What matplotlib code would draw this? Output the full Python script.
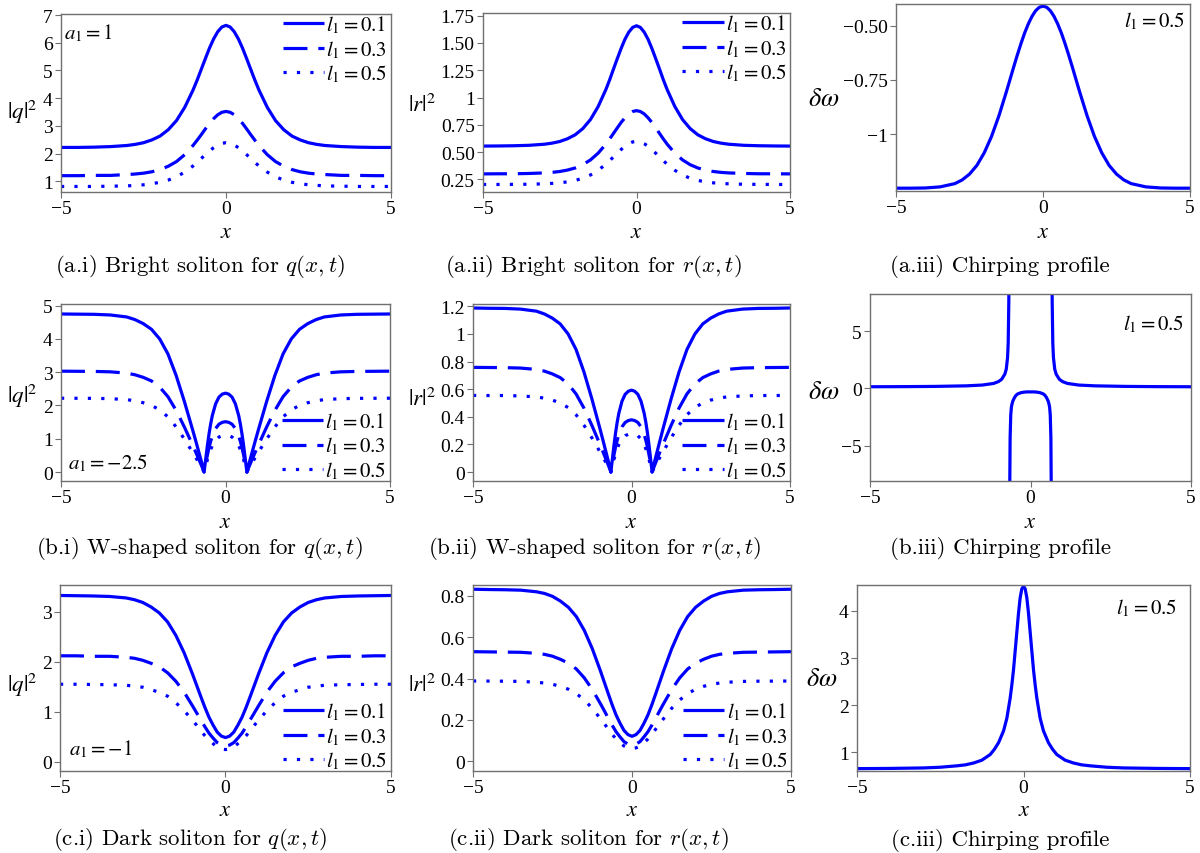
import matplotlib
matplotlib.use("Agg")
import matplotlib.pyplot as plt

plt.rcParams.update({"font.family": "Liberation Serif", "mathtext.fontset": "stix"})

W, H = 1200, 854

# ---- data ----
x_bell = [-5, -4.5, -4, -3.5, -3, -2.75, -2.5, -2.25, -2, -1.75, -1.5, -1.25, -1, -0.875, -0.75, -0.625, -0.5,
          -0.375, -0.25, -0.125, 0, 0.125, 0.25, 0.375, 0.5, 0.625, 0.75, 0.875, 1, 1.25, 1.5, 1.75, 2,
          2.25, 2.5, 2.75, 3, 3.5, 4, 4.5, 5]

# (a.i) bright |q|^2, a1 = 1
q_bright_01 = [2.22, 2.22, 2.23, 2.25, 2.29, 2.33, 2.39, 2.49, 2.63, 2.86, 3.19, 3.67, 4.29, 4.65, 5.04, 5.43, 5.81,
               6.14, 6.40, 6.57, 6.63, 6.57, 6.40, 6.14, 5.81, 5.43, 5.04, 4.65, 4.29, 3.67, 3.19, 2.86, 2.63,
               2.49, 2.39, 2.33, 2.29, 2.25, 2.23, 2.22, 2.22]
q_bright_03 = [1.20, 1.20, 1.21, 1.21, 1.24, 1.26, 1.29, 1.34, 1.42, 1.54, 1.71, 1.96, 2.29, 2.48, 2.68, 2.89, 3.09,
               3.26, 3.40, 3.49, 3.52, 3.49, 3.40, 3.26, 3.09, 2.89, 2.68, 2.48, 2.29, 1.96, 1.71, 1.54, 1.42,
               1.34, 1.29, 1.26, 1.24, 1.21, 1.21, 1.20, 1.20]
q_bright_05 = [0.81, 0.81, 0.81, 0.82, 0.83, 0.85, 0.87, 0.91, 0.96, 1.04, 1.16, 1.33, 1.55, 1.68, 1.82, 1.96, 2.09,
               2.21, 2.31, 2.37, 2.39, 2.37, 2.31, 2.21, 2.09, 1.96, 1.82, 1.68, 1.55, 1.33, 1.16, 1.04, 0.96,
               0.91, 0.87, 0.85, 0.83, 0.82, 0.81, 0.81, 0.81]

# (a.ii) bright |r|^2
r_bright_01 = [0.555, 0.556, 0.558, 0.562, 0.572, 0.582, 0.597, 0.622, 0.658, 0.715, 0.798, 0.917, 1.072, 1.162,
               1.261, 1.357, 1.451, 1.535, 1.600, 1.643, 1.658, 1.643, 1.600, 1.535, 1.451, 1.357, 1.261, 1.162,
               1.072, 0.917, 0.798, 0.715, 0.658, 0.622, 0.597, 0.582, 0.572, 0.562, 0.558, 0.556, 0.555]
r_bright_03 = [0.300, 0.301, 0.301, 0.304, 0.309, 0.314, 0.322, 0.335, 0.354, 0.384, 0.428, 0.490, 0.572, 0.620,
               0.671, 0.722, 0.772, 0.815, 0.850, 0.872, 0.880, 0.872, 0.850, 0.815, 0.772, 0.722, 0.671, 0.620,
               0.572, 0.490, 0.428, 0.384, 0.354, 0.335, 0.322, 0.314, 0.309, 0.304, 0.301, 0.301, 0.300]
r_bright_05 = [0.203, 0.203, 0.204, 0.205, 0.209, 0.213, 0.218, 0.227, 0.240, 0.260, 0.290, 0.333, 0.388, 0.421,
               0.456, 0.490, 0.524, 0.554, 0.577, 0.593, 0.598, 0.593, 0.577, 0.554, 0.524, 0.490, 0.456, 0.421,
               0.388, 0.333, 0.290, 0.260, 0.240, 0.227, 0.218, 0.213, 0.209, 0.205, 0.204, 0.203, 0.203]

# (a.iii) chirp
chirp_a = [-1.250, -1.250, -1.249, -1.244, -1.229, -1.212, -1.185, -1.145, -1.087, -1.011, -0.916, -0.807, -0.692,
           -0.636, -0.583, -0.534, -0.492, -0.457, -0.431, -0.415, -0.410, -0.415, -0.431, -0.457, -0.492, -0.534,
           -0.583, -0.636, -0.692, -0.807, -0.916, -1.011, -1.087, -1.145, -1.185, -1.212, -1.229, -1.244, -1.249,
           -1.250, -1.250]

# (b) W-shaped
x_w = [-5, -4.5, -4, -3.5, -3, -2.75, -2.5, -2.25, -2, -1.75, -1.5, -1.25, -1.1, -1, -0.9, -0.8, -0.72, -0.65,
       -0.6, -0.55, -0.5, -0.45, -0.4, -0.3, -0.2, -0.1, 0, 0.1, 0.2, 0.3, 0.4, 0.45, 0.5, 0.55, 0.6,
       0.65, 0.72, 0.8, 0.9, 1, 1.1, 1.25, 1.5, 1.75, 2, 2.25, 2.5, 2.75, 3, 3.5, 4, 4.5, 5]
q_w_01 = [4.75, 4.745, 4.74, 4.72, 4.66, 4.58, 4.46, 4.29, 4.00, 3.55, 2.90, 2.12, 1.61, 1.27, 0.92, 0.56, 0.27, 0.0,
          0.40, 0.80, 1.15, 1.45, 1.70, 2.05, 2.25, 2.34, 2.37, 2.34, 2.25, 2.05, 1.70, 1.45, 1.15, 0.80, 0.40,
          0.0, 0.27, 0.56, 0.92, 1.27, 1.61, 2.12, 2.90, 3.55, 4.00, 4.29, 4.46, 4.58, 4.66, 4.72, 4.74, 4.745, 4.75]
q_w_03 = [3.031, 3.027, 3.024, 3.011, 2.973, 2.922, 2.845, 2.737, 2.552, 2.265, 1.850, 1.353, 1.027, 0.810, 0.587,
          0.357, 0.172, 0.0, 0.255, 0.510, 0.734, 0.925, 1.085, 1.308, 1.436, 1.493, 1.512, 1.493, 1.436, 1.308,
          1.085, 0.925, 0.734, 0.510, 0.255, 0.0, 0.172, 0.357, 0.587, 0.810, 1.027, 1.353, 1.850, 2.265, 2.552,
          2.737, 2.845, 2.922, 2.973, 3.011, 3.024, 3.027, 3.031]
q_w_05 = [2.218, 2.216, 2.214, 2.204, 2.176, 2.139, 2.083, 2.003, 1.868, 1.658, 1.354, 0.990, 0.752, 0.593, 0.430,
          0.262, 0.126, 0.0, 0.187, 0.374, 0.537, 0.677, 0.794, 0.957, 1.051, 1.093, 1.107, 1.093, 1.051, 0.957,
          0.794, 0.677, 0.537, 0.374, 0.187, 0.0, 0.126, 0.262, 0.430, 0.593, 0.752, 0.990, 1.354, 1.658, 1.868,
          2.003, 2.083, 2.139, 2.176, 2.204, 2.214, 2.216, 2.218]
r_w_01 = [1.188, 1.186, 1.185, 1.180, 1.165, 1.145, 1.115, 1.073, 1.000, 0.888, 0.725, 0.530, 0.403, 0.318, 0.230,
          0.140, 0.068, 0.0, 0.100, 0.200, 0.288, 0.363, 0.425, 0.513, 0.563, 0.585, 0.593, 0.585, 0.563, 0.513,
          0.425, 0.363, 0.288, 0.200, 0.100, 0.0, 0.068, 0.140, 0.230, 0.318, 0.403, 0.530, 0.725, 0.888, 1.000,
          1.073, 1.115, 1.145, 1.165, 1.180, 1.185, 1.186, 1.188]
r_w_03 = [0.758, 0.757, 0.756, 0.753, 0.743, 0.731, 0.711, 0.684, 0.638, 0.566, 0.463, 0.338, 0.257, 0.203, 0.147,
          0.089, 0.043, 0.0, 0.064, 0.128, 0.184, 0.231, 0.271, 0.327, 0.359, 0.373, 0.378, 0.373, 0.359, 0.327,
          0.271, 0.231, 0.184, 0.128, 0.064, 0.0, 0.043, 0.089, 0.147, 0.203, 0.257, 0.338, 0.463, 0.566, 0.638,
          0.684, 0.711, 0.731, 0.743, 0.753, 0.756, 0.757, 0.758]
r_w_05 = [0.555, 0.554, 0.554, 0.551, 0.544, 0.535, 0.521, 0.501, 0.467, 0.415, 0.339, 0.248, 0.188, 0.148, 0.108,
          0.066, 0.032, 0.0, 0.047, 0.094, 0.134, 0.169, 0.199, 0.239, 0.263, 0.273, 0.277, 0.273, 0.263, 0.239,
          0.199, 0.169, 0.134, 0.094, 0.047, 0.0, 0.032, 0.066, 0.108, 0.148, 0.188, 0.248, 0.339, 0.415, 0.467,
          0.501, 0.521, 0.535, 0.544, 0.551, 0.554, 0.554, 0.555]

# (b.iii) chirp with two singularities, drawn as three branches
chirp_b_left_x = [-5, -4, -3, -2, -1.5, -1.15, -1, -0.9, -0.8, -0.755, -0.715, -0.695, -0.675, -0.665]
chirp_b_left_y = [0.15, 0.16, 0.18, 0.23, 0.3, 0.44, 0.6, 0.8, 1.25, 1.69, 2.7, 3.95, 7.7, 15]
chirp_b_mid_x = [-0.65, -0.645, -0.635, -0.615, -0.595, -0.575, -0.55, -0.5, -0.45, -0.4, -0.3, -0.2, -0.1, 0,
                 0.1, 0.2, 0.3, 0.4, 0.45, 0.5, 0.55, 0.575, 0.595, 0.615, 0.635, 0.645, 0.65]
chirp_b_mid_y = [-16, -8.3, -4.3, -2.3, -1.63, -1.35, -1.1, -0.8, -0.6, -0.48, -0.37, -0.32, -0.30, -0.30,
                 -0.30, -0.32, -0.37, -0.48, -0.6, -0.8, -1.1, -1.35, -1.63, -2.3, -4.3, -8.3, -16]
chirp_b_right_x = [0.665, 0.675, 0.695, 0.715, 0.755, 0.8, 0.9, 1, 1.15, 1.5, 2, 3, 4, 5]
chirp_b_right_y = [15, 7.7, 3.95, 2.7, 1.69, 1.25, 0.8, 0.6, 0.44, 0.3, 0.23, 0.18, 0.16, 0.15]

# (c) dark
q_dark_01 = [3.33, 3.325, 3.32, 3.31, 3.28, 3.245, 3.19, 3.10, 2.98, 2.80, 2.53, 2.18, 1.76, 1.535, 1.31, 1.09, 0.89,
             0.73, 0.59, 0.51, 0.48, 0.51, 0.59, 0.73, 0.89, 1.09, 1.31, 1.535, 1.76, 2.18, 2.53, 2.80, 2.98,
             3.10, 3.19, 3.245, 3.28, 3.31, 3.32, 3.325, 3.33]
q_dark_03 = [2.12, 2.12, 2.11, 2.11, 2.09, 2.07, 2.03, 1.97, 1.90, 1.78, 1.61, 1.39, 1.12, 0.98, 0.84, 0.70, 0.57,
             0.47, 0.38, 0.33, 0.31, 0.33, 0.38, 0.47, 0.57, 0.70, 0.84, 0.98, 1.12, 1.39, 1.61, 1.78, 1.90,
             1.97, 2.03, 2.07, 2.09, 2.11, 2.11, 2.12, 2.12]
q_dark_05 = [1.55, 1.55, 1.545, 1.54, 1.53, 1.51, 1.49, 1.44, 1.39, 1.31, 1.18, 1.02, 0.83, 0.73, 0.62, 0.52, 0.43,
             0.36, 0.29, 0.25, 0.24, 0.25, 0.29, 0.36, 0.43, 0.52, 0.62, 0.73, 0.83, 1.02, 1.18, 1.31, 1.39,
             1.44, 1.49, 1.51, 1.53, 1.54, 1.545, 1.55, 1.55]
r_dark_01 = [0.8325, 0.831, 0.830, 0.828, 0.820, 0.812, 0.798, 0.775, 0.745, 0.700, 0.633, 0.545, 0.440, 0.384,
             0.328, 0.273, 0.223, 0.183, 0.148, 0.128, 0.120, 0.128, 0.148, 0.183, 0.223, 0.273, 0.328, 0.384,
             0.440, 0.545, 0.633, 0.700, 0.745, 0.775, 0.798, 0.812, 0.820, 0.828, 0.830, 0.831, 0.8325]
r_dark_03 = [0.530, 0.529, 0.528, 0.527, 0.522, 0.517, 0.508, 0.493, 0.474, 0.446, 0.403, 0.347, 0.280, 0.245,
             0.209, 0.174, 0.142, 0.117, 0.094, 0.082, 0.077, 0.082, 0.094, 0.117, 0.142, 0.174, 0.209, 0.245,
             0.280, 0.347, 0.403, 0.446, 0.474, 0.493, 0.508, 0.517, 0.522, 0.527, 0.528, 0.529, 0.530]
r_dark_05 = [0.388, 0.3875, 0.387, 0.386, 0.382, 0.378, 0.372, 0.362, 0.348, 0.327, 0.296, 0.256, 0.207, 0.182,
             0.156, 0.130, 0.107, 0.089, 0.073, 0.064, 0.060, 0.064, 0.073, 0.089, 0.107, 0.130, 0.156, 0.182,
             0.207, 0.256, 0.296, 0.327, 0.348, 0.362, 0.372, 0.378, 0.382, 0.386, 0.387, 0.3875, 0.388]

x_chirp_c = [-5, -4, -3, -2.5, -2, -1.75, -1.5, -1.25, -1, -0.875, -0.75, -0.6, -0.5, -0.4, -0.35, -0.3, -0.25,
             -0.2, -0.15, -0.1, -0.05, 0, 0.05, 0.1, 0.15, 0.2, 0.25, 0.3, 0.35, 0.4, 0.5, 0.6, 0.75, 0.875,
             1, 1.25, 1.5, 1.75, 2, 2.5, 3, 4, 5]
chirp_c = [0.65, 0.655, 0.665, 0.68, 0.71, 0.73, 0.77, 0.83, 0.95, 1.06, 1.2, 1.45, 1.72, 2.15, 2.43, 2.75, 3.15,
           3.55, 3.95, 4.28, 4.47, 4.52, 4.47, 4.28, 3.95, 3.55, 3.15, 2.75, 2.43, 2.15, 1.72, 1.45, 1.2, 1.06,
           0.95, 0.83, 0.77, 0.73, 0.71, 0.68, 0.665, 0.655, 0.65]

legend_labels = [r"$l_1 = 0.1$", r"$l_1 = 0.3$", r"$l_1 = 0.5$"]
x_ticks = [-5, 0, 5]
x_tick_labels = ["\u22125", "0", "5"]

captions = [r"(a.i) Bright soliton for $q(x,t)$", r"(a.ii) Bright soliton for $r(x,t)$", "(a.iii) Chirping profile",
            r"(b.i) W-shaped soliton for $q(x,t)$", r"(b.ii) W-shaped soliton for $r(x,t)$", "(b.iii) Chirping profile",
            r"(c.i) Dark soliton for $q(x,t)$", r"(c.ii) Dark soliton for $r(x,t)$", "(c.iii) Chirping profile"]

BLUE = "#0000ff"
FRAME = "#707070"
STYLES = [dict(linestyle="-"), dict(dashes=(7.5, 3.4)), dict(dashes=(1, 3.2))]

fig = plt.figure(figsize=(12, 8.54), dpi=100)


def make_axes(box, ylim, yticks, ylabels):
    l, t, r, b = box
    ax = fig.add_axes([l / W, 1 - b / H, (r - l) / W, (b - t) / H])
    ax.set_xlim(-5, 5)
    ax.set_ylim(*ylim)
    ax.set_xticks(x_ticks, x_tick_labels)
    ax.set_yticks(yticks, ylabels)
    for s in ax.spines.values():
        s.set_color(FRAME)
        s.set_linewidth(1.0)
    ax.tick_params(direction="out", length=4, width=0.8, color=FRAME, labelsize=14, pad=2)
    return ax


def ftext(x, y, s, **kw):
    fig.text(x / W, 1 - y / H, s, **kw)


def curves(ax, x, ys):
    for y, st, lab in zip(ys, STYLES, legend_labels):
        ax.plot(x, y, color=BLUE, lw=2.3, label=lab, solid_capstyle="butt", dash_capstyle="butt",
                solid_joinstyle="round", **st)


def add_legend(ax, loc, anchor):
    ax.legend(loc=loc, bbox_to_anchor=anchor, frameon=False, fontsize=15, handlelength=2.0,
              handletextpad=0.1, labelspacing=0.12, borderaxespad=0, borderpad=0)


# ---- row a ----
ax = make_axes((61, 15, 391, 193), (0.61, 7.04), [1, 2, 3, 4, 5, 6, 7], ["1", "2", "3", "4", "5", "6", "7"])
curves(ax, x_bell, [q_bright_01, q_bright_03, q_bright_05])
add_legend(ax, "upper right", (0.99, 1.0))
ftext(64, 39, r"$a_1 = 1$", fontsize=15)

ax = make_axes((483, 14, 790, 193), (0.134, 1.775), [0.25, 0.5, 0.75, 1, 1.25, 1.5, 1.75],
               ["0.25", "0.50", "0.75", "1", "1.25", "1.50", "1.75"])
curves(ax, x_bell, [r_bright_01, r_bright_03, r_bright_05])
add_legend(ax, "upper right", (0.99, 1.0))

ax = make_axes((896, 5, 1190, 192), (-1.263, -0.40), [-1, -0.75, -0.5], ["\u22121", "\u22120.75", "\u22120.50"])
ax.plot(x_bell, chirp_a, color=BLUE, lw=2.3)
ftext(1124, 27, r"$l_1 = 0.5$", fontsize=15)

# ---- row b ----
ax = make_axes((61, 305, 390, 482), (-0.27, 5.05), [0, 1, 2, 3, 4, 5], ["0", "1", "2", "3", "4", "5"])
curves(ax, x_w, [q_w_01, q_w_03, q_w_05])
add_legend(ax, "lower right", (0.99, 0.0))
ftext(68, 469, r"$a_1 = -2.5$", fontsize=15)

ax = make_axes((473, 305, 790, 482), (-0.065, 1.217), [0, 0.2, 0.4, 0.6, 0.8, 1, 1.2],
               ["0", "0.2", "0.4", "0.6", "0.8", "1", "1.2"])
curves(ax, x_w, [r_w_01, r_w_03, r_w_05])
add_legend(ax, "lower right", (0.99, 0.0))

ax = make_axes((870, 295, 1191, 482), (-8.1, 8.27), [-5, 0, 5], ["\u22125", "0", "5"])
for bx, by in [(chirp_b_left_x, chirp_b_left_y), (chirp_b_mid_x, chirp_b_mid_y), (chirp_b_right_x, chirp_b_right_y)]:
    ax.plot(bx, by, color=BLUE, lw=2.3)
ftext(1123, 330, r"$l_1 = 0.5$", fontsize=15)

# ---- row c ----
ax = make_axes((60, 586, 391, 772), (-0.19, 3.54), [0, 1, 2, 3], ["0", "1", "2", "3"])
curves(ax, x_bell, [q_dark_01, q_dark_03, q_dark_05])
add_legend(ax, "lower right", (0.99, 0.0))
ftext(69, 755, r"$a_1 = -1$", fontsize=15)

ax = make_axes((473, 586, 791, 772), (-0.048, 0.853), [0, 0.2, 0.4, 0.6, 0.8], ["0", "0.2", "0.4", "0.6", "0.8"])
curves(ax, x_bell, [r_dark_01, r_dark_03, r_dark_05])
add_legend(ax, "lower right", (0.99, 0.0))

ax = make_axes((857, 586, 1190, 772), (0.6, 4.55), [1, 2, 3, 4], ["1", "2", "3", "4"])
ax.plot(x_chirp_c, chirp_c, color=BLUE, lw=2.3)
ftext(1116, 614, r"$l_1 = 0.5$", fontsize=15)

# ---- axis labels and captions ----
ylab = {"q": r"$|q|^2$", "r": r"$|r|^2$", "w": r"$\delta\omega$"}
for (x, y, k) in [(22, 112, "q"), (422, 105, "r"), (824, 100, "w"),
                  (22, 396, "q"), (422, 399, "r"), (824, 393, "w"),
                  (22, 685, "q"), (422, 685, "r"), (822, 680, "w")]:
    ftext(x, y, ylab[k], fontsize=19 if k == "w" else 16.5, ha="center", va="center")

for (x, y) in [(226, 234), (636, 234), (1043, 234), (225, 523), (631, 523), (1030, 523),
               (225, 812), (632, 812), (1024, 812)]:
    ftext(x, y, r"$x$", fontsize=16, ha="center", va="center")

for cap, (x, y) in zip(captions, [(200, 266), (593, 266), (1000, 266), (199, 548), (595, 548), (1000, 548),
                                  (190, 840), (588, 840), (1000, 841)]):
    ftext(x, y, cap, fontsize=16.5, family="cmr10", math_fontfamily="cm", ha="center", va="center")

fig.savefig("out.png", dpi=100)
